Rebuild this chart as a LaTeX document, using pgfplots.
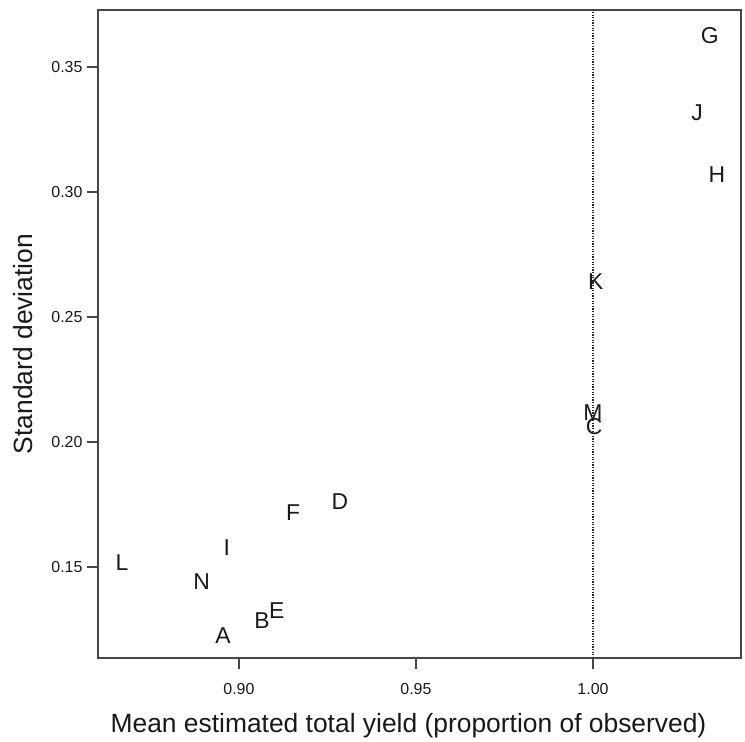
\documentclass[border=0pt]{standalone}
\usepackage{fontspec}
\setmainfont{Liberation Sans}
\usepackage{pgfplots}
\pgfplotsset{compat=1.18}
\definecolor{axisgray}{gray}{0.28}
\definecolor{inkgray}{gray}{0.1}

% Mean estimated total yield vs. standard deviation, one letter per estimator
\pgfplotstableread{
x        y       lab
0.8955   0.1224  A
0.9065   0.1284  B
1.0003   0.2060  C
0.9285   0.1760  D
0.9107   0.1324  E
0.9153   0.1716  F
1.0330   0.3624  G
1.0350   0.3068  H
0.8966   0.1576  I
1.0294   0.3316  J
1.0008   0.2640  K
0.8670   0.1516  L
1.0000   0.2116  M
0.8895   0.1440  N
}\estimates

\begin{document}
\begin{tikzpicture}
\begin{axis}[
  scale only axis,
  width=643bp, height=648bp,
  xmin=0.8602, xmax=1.0418,
  ymin=0.1136, ymax=0.3728,
  xtick={0.90,0.95,1.00},
  xticklabels={0.90,0.95,1.00},
  ytick={0.15,0.20,0.25,0.30,0.35},
  yticklabels={0.15,0.20,0.25,0.30,0.35},
  tick align=outside,
  xtick pos=bottom, ytick pos=left,
  major tick length=11bp,
  axis line style={axisgray, line width=1.4bp},
  every tick/.style={axisgray, line width=1.2bp},
  tick label style={font=\fontsize{16}{16}\selectfont, text=inkgray},
  xticklabel style={yshift=-11bp},
  yticklabel style={xshift=-1bp},
  label style={font=\fontsize{26.5}{26.5}\selectfont, text=inkgray},
  xlabel={Mean estimated total yield (proportion of observed)},
  ylabel={Standard deviation},
  xlabel style={yshift=-12bp, xshift=-11bp},
  ylabel style={yshift=12bp, xshift=-10bp},
  clip=false,
]
  % reference line at an unbiased mean of 1
  \draw[black!85, line width=1.3bp, dash pattern=on 1.2bp off 1.4bp]
    (axis cs:1.00,0.1136) -- (axis cs:1.00,0.3728);
  \addplot[
    only marks, mark=none,
    point meta=explicit symbolic,
    nodes near coords,
    nodes near coords align=center,
    every node near coord/.style={font=\fontsize{23}{23}\selectfont, text=inkgray, inner sep=0pt},
  ] table[x=x, y=y, meta=lab] {\estimates};
\end{axis}
\pgfresetboundingbox
\path (current axis.south west) ++(-98bp,-84bp) rectangle ++(745bp,742bp);
\end{tikzpicture}
\end{document}
